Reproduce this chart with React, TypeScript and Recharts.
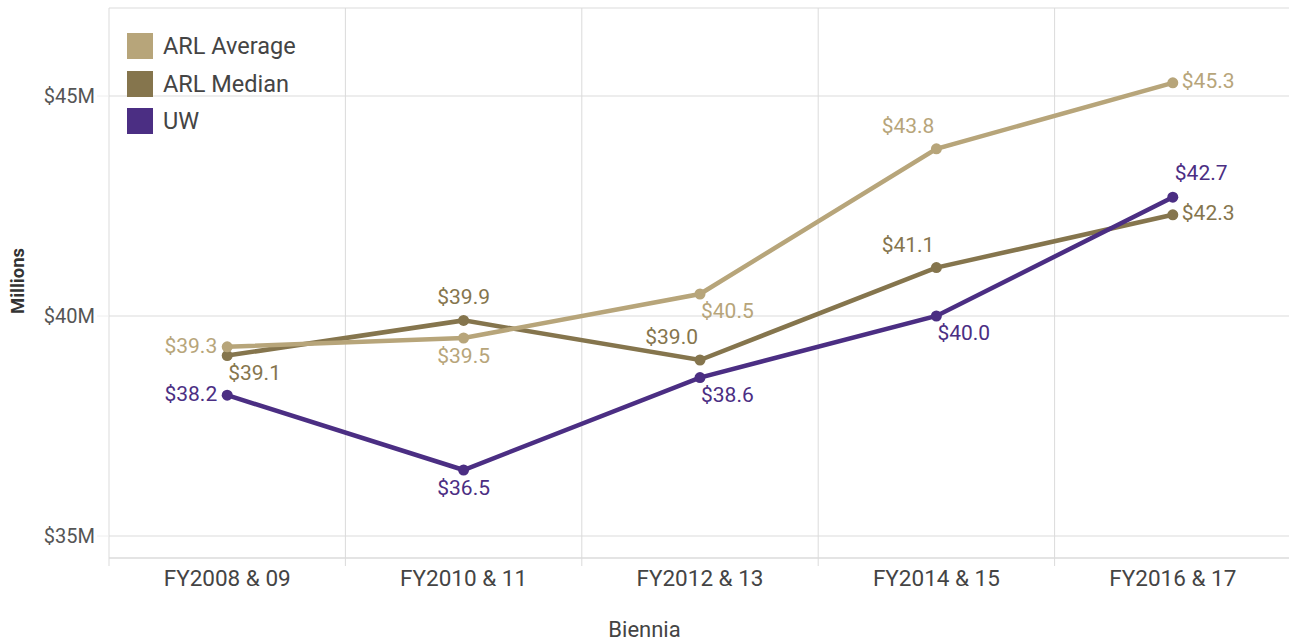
import React from 'react';
import { LineChart, Line, XAxis, YAxis, CartesianGrid, Label } from 'recharts';

const categories = ['FY2008 & 09', 'FY2010 & 11', 'FY2012 & 13', 'FY2014 & 15', 'FY2016 & 17'];
const arlAverage = [39.3, 39.5, 40.5, 43.8, 45.3];
const arlMedian = [39.1, 39.9, 39.0, 41.1, 42.3];
const uwValues = [38.2, 36.5, 38.6, 40.0, 42.7];
const yTicks = [35, 40, 45];
const yDomain = [34.5, 47];
const xDomain = [-0.5, 4.5];

const rows = categories.map((name, i) => ({
  x: i,
  name,
  avg: arlAverage[i],
  med: arlMedian[i],
  uw: uwValues[i],
}));

const FONT = 'Roboto, "Liberation Sans", Arial, sans-serif';
const GRID = '#dbdbdb';

const COLORS = { avg: '#b7a57a', med: '#85754d', uw: '#4b2e83' };

const PLACE: Record<string, { anchor: 'start' | 'middle' | 'end'; dx: number; dy: number }> = {
  L: { anchor: 'end', dx: -10, dy: -1 },
  B: { anchor: 'middle', dx: 0, dy: 18 },
  BR: { anchor: 'start', dx: 1, dy: 17 },
  AL: { anchor: 'end', dx: -2, dy: -23 },
  R: { anchor: 'start', dx: 9, dy: -2 },
  A: { anchor: 'middle', dx: 0, dy: -23 },
  AR: { anchor: 'start', dx: 2, dy: -24 },
};

const avgPlaces = ['L', 'B', 'BR', 'AL', 'R'];
const medPlaces = ['BR', 'A', 'AL', 'AL', 'R'];
const uwPlaces = ['L', 'B', 'BR', 'BR', 'AR'];

const makeDot = (key: string, color: string, places: string[]) => (props: any) => {
  const { cx, cy, index, payload } = props;
  const value = props.value ?? payload?.[key];
  const p = PLACE[places[index]] || PLACE.A;
  if (cx == null || cy == null) return <g key={`e${key}${index}`} />;
  return (
    <g key={`d${key}${index}`}>
      <circle cx={cx} cy={cy} r={5.5} fill={color} />
      <text
        x={cx + p.dx}
        y={cy + p.dy}
        textAnchor={p.anchor}
        dominantBaseline="central"
        fill={color}
        fontSize={21}
        fontFamily={FONT}
      >
        {`$${Number(Array.isArray(value) ? value[1] : value).toFixed(1)}`}
      </text>
    </g>
  );
};

const legendItems = [
  { label: 'ARL Average', color: COLORS.avg },
  { label: 'ARL Median', color: COLORS.med },
  { label: 'UW', color: COLORS.uw },
];

const vLines = (args: any) => {
  const { xAxis, offset } = args;
  const vals = [-0.5, 0.5, 1.5, 2.5, 3.5, 4.5];
  if (xAxis && typeof xAxis.scale === 'function') {
    const r = vals.map((v) => xAxis.scale(v));
    if (r.every((n: any) => typeof n === 'number' && !isNaN(n))) return r;
  }
  return vals.map((v) => offset.left + ((v - xDomain[0]) / (xDomain[1] - xDomain[0])) * offset.width);
};

const hLines = (args: any) => {
  const { yAxis, offset } = args;
  const vals = [47, 45, 40, 35, 34.5];
  if (yAxis && typeof yAxis.scale === 'function') {
    const r = vals.map((v) => yAxis.scale(v));
    if (r.every((n: any) => typeof n === 'number' && !isNaN(n))) return r;
  }
  return vals.map((v) => offset.top + ((yDomain[1] - v) / (yDomain[1] - yDomain[0])) * offset.height);
};

const verticalLine = (p: any) => (
  <line
    key={p.key ?? `v${p.index}`}
    x1={p.x1}
    y1={p.y1}
    x2={p.x2}
    y2={p.y2 + 8}
    stroke={GRID}
    strokeWidth={1}
  />
);

export default function App() {
  return (
    <div
      style={{
        position: 'absolute',
        left: 0,
        top: 0,
        width: 1289,
        height: 641,
        overflow: 'hidden',
        background: '#fff',
        fontFamily: FONT,
      }}
    >
      <LineChart
        width={1291}
        height={641}
        data={rows}
        margin={{ top: 8, right: 0, bottom: 0, left: 0 }}
        style={{ fontFamily: FONT }}
      >
        <CartesianGrid
          stroke={GRID}
          horizontalCoordinatesGenerator={hLines}
          verticalCoordinatesGenerator={vLines}
          vertical={verticalLine}
        />
        <XAxis
          dataKey="x"
          type="number"
          domain={xDomain}
          ticks={[0, 1, 2, 3, 4]}
          interval={0}
          allowDataOverflow
          tickFormatter={(i: number) => categories[i] ?? ''}
          height={83}
          axisLine={{ stroke: GRID }}
          tickLine={false}
          tickSize={8}
          tickMargin={4}
          tick={{ fontSize: 22.5, fill: '#444', fontFamily: FONT }}
        >
          <Label
            content={() => (
              <text x={644.5} y={637} textAnchor="middle" fontSize={22} fill="#444" fontFamily={FONT}>
                Biennia
              </text>
            )}
          />
        </XAxis>
        <YAxis
          type="number"
          domain={yDomain}
          ticks={yTicks}
          allowDataOverflow
          width={109}
          axisLine={false}
          tickLine={{ stroke: '#eeeeee' }}
          tickSize={12}
          tickMargin={2}
          tickFormatter={(v: number) => `$${v}M`}
          tick={{ fontSize: 20, fill: '#555', fontFamily: FONT }}
        >
          <Label
            content={() => (
              <text
                x={18}
                y={281}
                transform="rotate(-90 18 281)"
                textAnchor="middle"
                dominantBaseline="central"
                fontSize={18.5}
                fontWeight="bold"
                fill="#333"
                fontFamily={FONT}
              >
                Millions
              </text>
            )}
          />
        </YAxis>
        <Line
          type="linear"
          dataKey="med"
          name="ARL Median"
          stroke={COLORS.med}
          strokeWidth={4.5}
          dot={makeDot('med', COLORS.med, medPlaces)}
          activeDot={false}
          isAnimationActive={false}
        />
        <Line
          type="linear"
          dataKey="avg"
          name="ARL Average"
          stroke={COLORS.avg}
          strokeWidth={4.5}
          dot={makeDot('avg', COLORS.avg, avgPlaces)}
          activeDot={false}
          isAnimationActive={false}
        />
        <Line
          type="linear"
          dataKey="uw"
          name="UW"
          stroke={COLORS.uw}
          strokeWidth={4.5}
          dot={makeDot('uw', COLORS.uw, uwPlaces)}
          activeDot={false}
          isAnimationActive={false}
        />
      </LineChart>
      <div style={{ position: 'absolute', left: 127, top: 33 }}>
        {legendItems.map((it) => (
          <div key={it.label} style={{ display: 'flex', alignItems: 'center', height: 26, marginBottom: 11.5 }}>
            <div style={{ width: 26, height: 26, background: it.color }} />
            <span style={{ marginLeft: 10, fontSize: 23.5, color: '#444', lineHeight: '26px' }}>{it.label}</span>
          </div>
        ))}
      </div>
    </div>
  );
}
